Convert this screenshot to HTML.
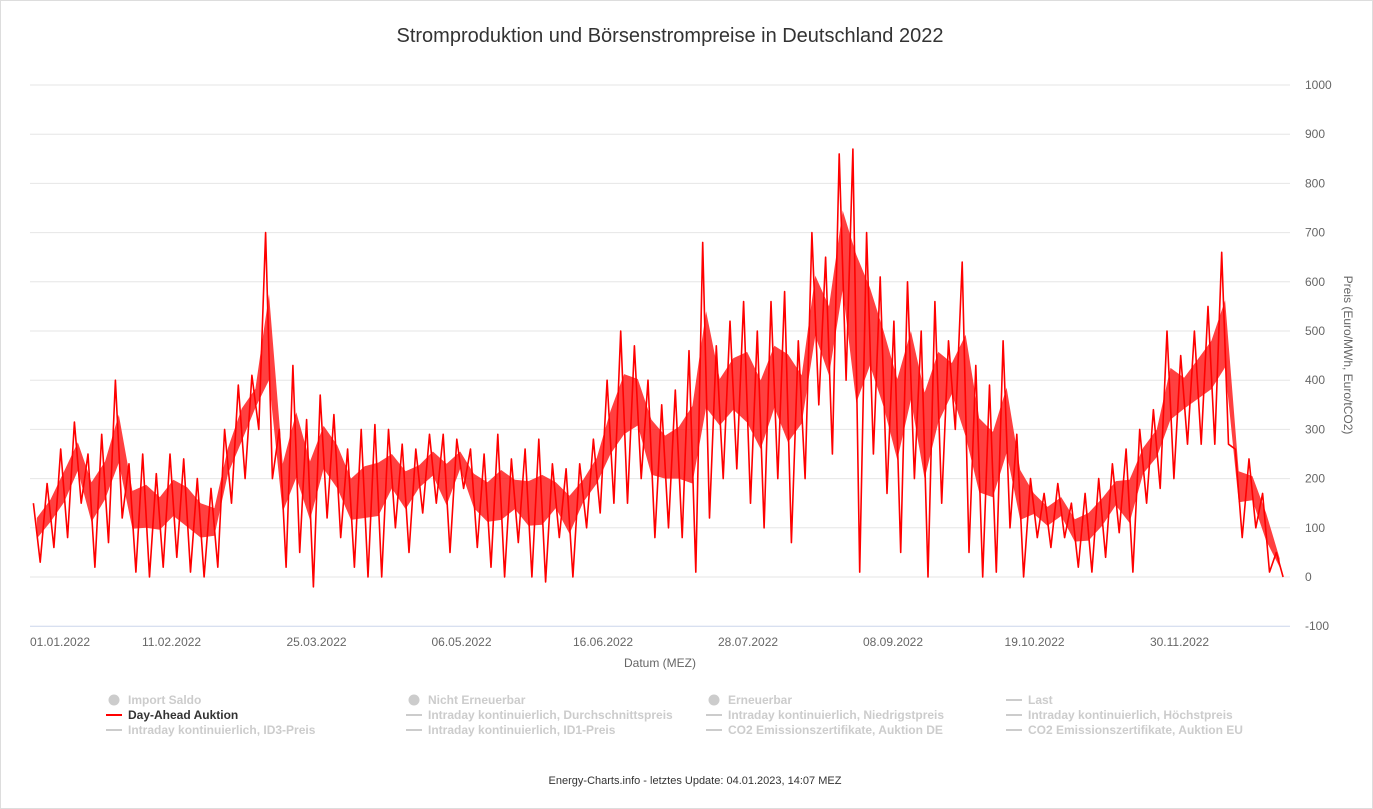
<!DOCTYPE html>
<html><head><meta charset="utf-8">
<style>
body{margin:0;background:#fff;font-family:"Liberation Sans",sans-serif;}
svg{display:block}
</style></head>
<body>
<svg width="1373" height="809">
<rect x="0.5" y="0.5" width="1372" height="808" fill="#fff" stroke="#ddd"/>
<text x="670" y="42" text-anchor="middle" font-size="20" fill="#333">Stromproduktion und Börsenstrompreise in Deutschland 2022</text>
<g id="grid"></g>
<g id="xaxis"></g>
<g id="series"></g>
<text transform="translate(1344,355) rotate(90)" text-anchor="middle" font-size="12" fill="#666">Preis (Euro/MWh, Euro/tCO2)</text>
<text x="660" y="667" text-anchor="middle" font-size="12" fill="#666">Datum (MEZ)</text>
<g id="legend" font-size="12" font-weight="bold"></g>
<text x="695" y="784" text-anchor="middle" font-size="11" fill="#333">Energy-Charts.info - letztes Update: 04.01.2023, 14:07 MEZ</text>
</svg>
<script>
const yTicks=[-100,0,100,200,300,400,500,600,700,800,900,1000];
const xTickLabels=["01.01.2022","11.02.2022","25.03.2022","06.05.2022","16.06.2022","28.07.2022","08.09.2022","19.10.2022","30.11.2022"];
const xTickDays=[0,41,83,125,166,208,250,291,333];
const highs=[150,190,260,315,250,290,400,230,250,210,250,240,200,180,300,390,410,700,300,430,320,370,330,260,300,310,300,270,260,290,290,280,260,250,290,240,260,280,230,220,230,280,400,500,470,400,350,380,460,680,470,520,560,500,560,580,480,700,650,860,870,700,610,520,600,500,560,480,640,430,390,480,290,200,170,190,150,170,200,230,260,300,340,500,450,500,550,660,260,240,170,50];
const lows=[30,60,80,150,20,70,120,10,0,20,40,10,0,20,150,200,300,200,20,50,-20,120,80,20,0,0,100,50,130,150,50,180,60,20,0,70,0,-10,80,0,100,130,150,150,200,80,100,80,10,120,200,220,150,100,200,70,200,350,250,400,10,250,170,50,200,0,150,300,50,0,10,100,0,80,60,80,20,10,40,90,10,150,180,200,270,270,270,270,80,100,10,0];
const NS="http://www.w3.org/2000/svg";
const x0=30,x1=1290,yZero=577,pxPer=0.492;
const xs=d=>x0+d*(x1-x0)/365;
const ys=v=>yZero-v*pxPer;
const stepDays=364/highs.length;
function mk(t,a,p){const e=document.createElementNS(NS,t);for(const k in a)e.setAttribute(k,a[k]);p.appendChild(e);return e;}
const grid=document.getElementById('grid');
yTicks.forEach(v=>{
  const l=mk('line',{x1:x0,x2:x1,y1:ys(v),y2:ys(v),stroke:v===-100?'#ccd6eb':'#e6e6e6','stroke-width':1},grid);
  
  
  const t=mk('text',{x:1305,y:ys(v)+4,'font-size':12,fill:'#666'},grid);
  t.textContent=v;
  
  
});
const xa=document.getElementById('xaxis');
xTickLabels.forEach((s,i)=>{
  const t=mk('text',{x:i===0?x0:xs(xTickDays[i]),y:646,'font-size':12,fill:'#666','text-anchor':i===0?'start':'middle'},xa);
  t.textContent=s;
  
  
});
const sg=document.getElementById('series');
let upperPts=[],lowerPts=[];
highs.forEach((h,i)=>{const d=i*stepDays+stepDays/2;upperPts.push(xs(d).toFixed(1)+','+ys(h*0.75+lows[i]*0.25).toFixed(1));lowerPts.unshift(xs(d).toFixed(1)+','+ys(lows[i]*0.6+h*0.4).toFixed(1));});
const band=mk('polygon',{points:upperPts.concat(lowerPts).join(' '),fill:'#ff0000','fill-opacity':0.75},sg);


let pts=[];
highs.forEach((h,i)=>{pts.push(xs(i*stepDays+stepDays*0.25).toFixed(1)+','+ys(h).toFixed(1));pts.push(xs(i*stepDays+stepDays*0.75).toFixed(1)+','+ys(lows[i]).toFixed(1));});
const pl=mk('polyline',{points:pts.join(' '),fill:'none',stroke:'#ff0000','stroke-width':1.6,'stroke-linejoin':'round'},sg);


const leg=[["Import Saldo","c",0],["Nicht Erneuerbar","c",0],["Erneuerbar","c",0],["Last","l",0],
["Day-Ahead Auktion","l",1],["Intraday kontinuierlich, Durchschnittspreis","l",0],["Intraday kontinuierlich, Niedrigstpreis","l",0],["Intraday kontinuierlich, Höchstpreis","l",0],
["Intraday kontinuierlich, ID3-Preis","l",0],["Intraday kontinuierlich, ID1-Preis","l",0],["CO2 Emissionszertifikate, Auktion DE","l",0],["CO2 Emissionszertifikate, Auktion EU","l",0]];
const lg=document.getElementById('legend');
leg.forEach((L,i)=>{
  const cx=108+300*(i%4),cy=704+15*Math.floor(i/4);
  const g=mk('g',{},lg);
  
  
  if(L[1]==='c')mk('circle',{cx:cx+6,cy:cy-4,r:5.5,fill:'#ccc'},g);
  else mk('line',{x1:cx-2,x2:cx+14,y1:cy-4,y2:cy-4,stroke:L[2]?'#ff0000':'#ccc','stroke-width':2},g);
  const t=mk('text',{x:cx+20,y:cy,fill:L[2]?'#333':'#ccc'},g);
  t.textContent=L[0];
});
</script>
</body></html>
